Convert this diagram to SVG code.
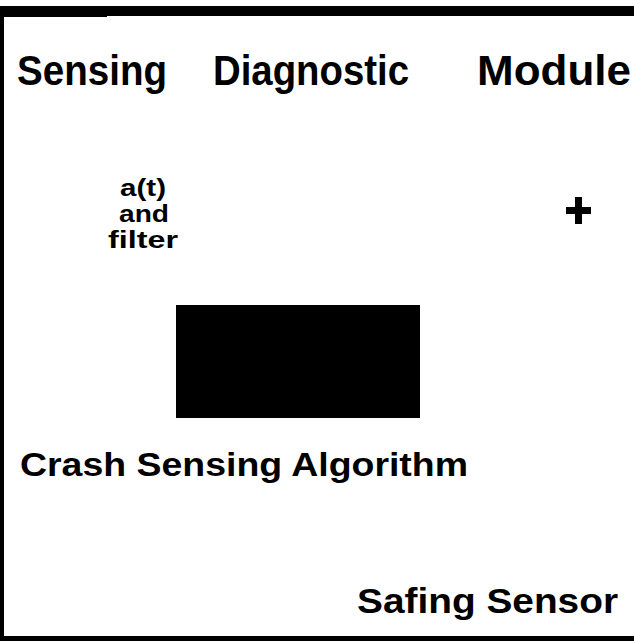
<svg xmlns="http://www.w3.org/2000/svg" width="634" height="641" viewBox="0 0 634 641">
  <style>
    .lbl { font-family: "Liberation Sans", Arial, sans-serif; font-weight: bold; fill: #000; }
    .frame { fill: #000; }
  </style>
  <rect x="0" y="0" width="634" height="641" fill="#fff"/>

  <!-- module frame: top, left and bottom edges -->
  <g id="frame">
    <rect class="frame" x="0" y="6" width="634" height="10"/>
    <rect class="frame" x="0" y="6" width="107" height="11"/>
    <rect class="frame" x="0" y="6" width="4" height="635"/>
    <rect class="frame" x="0" y="636" width="634" height="5"/>
  </g>

  <g id="title">
    <text class="lbl" x="17" y="85" font-size="42" textLength="150" lengthAdjust="spacingAndGlyphs">Sensing</text>
    <text class="lbl" x="213" y="85" font-size="42" textLength="196" lengthAdjust="spacingAndGlyphs">Diagnostic</text>
    <text class="lbl" x="477" y="85" font-size="42" textLength="154" lengthAdjust="spacingAndGlyphs">Module</text>
  </g>

  <g id="filter">
    <text class="lbl" x="120" y="196" font-size="23" textLength="46" lengthAdjust="spacingAndGlyphs">a(t)</text>
    <text class="lbl" x="119" y="222" font-size="23" textLength="50" lengthAdjust="spacingAndGlyphs">and</text>
    <text class="lbl" x="108" y="248" font-size="23" textLength="70" lengthAdjust="spacingAndGlyphs">filter</text>
  </g>

  <g id="summing-junction">
    <rect class="frame" x="566" y="207" width="25" height="7"/>
    <rect class="frame" x="575" y="197" width="7" height="27"/>
  </g>

  <g id="algorithm-block">
    <rect class="frame" x="176" y="305" width="244" height="113"/>
  </g>

  <g id="crash-sensing-algorithm">
    <text class="lbl" x="20" y="476" font-size="34" textLength="448" lengthAdjust="spacingAndGlyphs">Crash Sensing Algorithm</text>
  </g>

  <g id="safing-sensor">
    <text class="lbl" x="357" y="613" font-size="35" textLength="261" lengthAdjust="spacingAndGlyphs">Safing Sensor</text>
  </g>
</svg>
